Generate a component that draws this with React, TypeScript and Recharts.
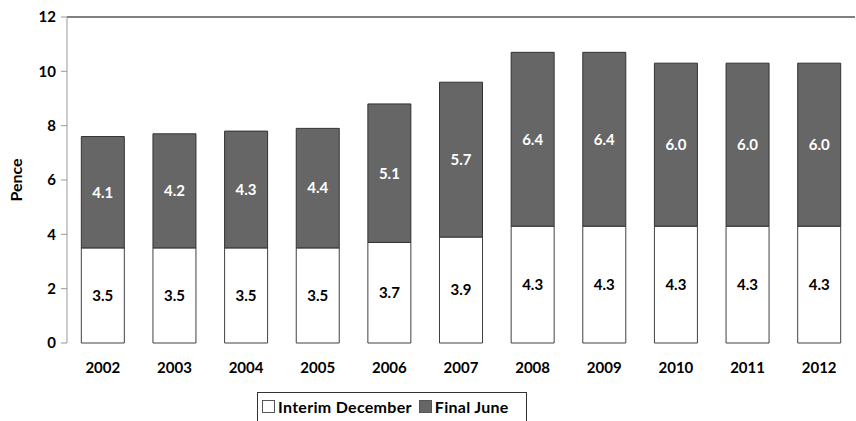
import React from 'react';
import { BarChart, Bar, XAxis, YAxis, ReferenceLine, LabelList, Legend } from 'recharts';

const years = ['2002', '2003', '2004', '2005', '2006', '2007', '2008', '2009', '2010', '2011', '2012'];
const interimDecember = [3.5, 3.5, 3.5, 3.5, 3.7, 3.9, 4.3, 4.3, 4.3, 4.3, 4.3];
const finalJune = [4.1, 4.2, 4.3, 4.4, 5.1, 5.7, 6.4, 6.4, 6.0, 6.0, 6.0];
const yTicks = [0, 2, 4, 6, 8, 10, 12];
const boundaryTicks = [0, 1, 2, 3, 4, 5, 6, 7, 8, 9, 10, 11];

const data = years.map((y, i) => ({ year: y, interim: interimDecember[i], final: finalJune[i] }));

const FONT = 'Lato, "Open Sans", sans-serif';

const LegendBox = () => (
  <div
    style={{
      display: 'inline-flex',
      alignItems: 'center',
      border: '1px solid #333',
      padding: '0 8px 2px 4px',
      fontFamily: FONT,
      fontWeight: 700,
      fontSize: 16,
      color: '#000',
      background: '#fff',
      height: 30,
      boxSizing: 'border-box',
      width: 270,
      whiteSpace: 'nowrap',
    }}
  >
    <span style={{ display: 'inline-block', width: 11, height: 11, border: '1px solid #555', background: '#fff', marginRight: 3 }} />
    <span style={{ marginRight: 7, letterSpacing: 0.3 }}>Interim December</span>
    <span style={{ display: 'inline-block', width: 11, height: 11, border: '1px solid #555', background: '#666666', marginRight: 3 }} />
    <span style={{ letterSpacing: 0.3 }}>Final June</span>
  </div>
);

export default function App() {
  return (
    <div style={{ position: 'absolute', left: 0, top: 0, width: 856, height: 421, background: '#fff', overflow: 'hidden' }}>
      <BarChart
        width={856}
        height={421}
        data={data}
        margin={{ top: 17, right: 1, left: 0, bottom: 18 }}
        barCategoryGap="20%"
      >
        <XAxis
          xAxisId="num"
          type="number"
          domain={[0, 11]}
          ticks={boundaryTicks}
          tickFormatter={() => ''}
          tickSize={6}
          height={0}
          axisLine={{ stroke: '#999' }}
          tickLine={{ stroke: '#999' }}
          allowDataOverflow
        />
        <XAxis
          xAxisId="cat"
          dataKey="year"
          axisLine={false}
          tickLine={false}
          tickSize={0}
          tickMargin={19}
          height={30}
          tick={{ fill: '#000', fontFamily: FONT, fontWeight: 700, fontSize: 15 }}
          interval={0}
        />
        <YAxis
          domain={[0, 12]}
          ticks={yTicks}
          width={67}
          tickSize={6}
          tickMargin={5}
          axisLine={{ stroke: '#999' }}
          tickLine={{ stroke: '#999' }}
          tick={{ fill: '#000', fontFamily: FONT, fontWeight: 700, fontSize: 15 }}
          label={{
            value: 'Pence',
            angle: -90,
            position: 'insideLeft',
            offset: 16,
            style: { fill: '#000', fontFamily: FONT, fontWeight: 700, fontSize: 16, textAnchor: 'middle' },
          }}
        />
        <ReferenceLine xAxisId="cat" y={12} stroke="#000" strokeWidth={1} ifOverflow="extendDomain" />
        <Legend content={<LegendBox />} wrapperStyle={{ top: 392, left: 257, width: 'auto', height: 30 }} />
        <Bar xAxisId="cat" dataKey="interim" stackId="a" fill="#ffffff" stroke="#404040" strokeWidth={1} isAnimationActive={false}>
          <LabelList
            dataKey="interim"
            position="center"
            formatter={(v: number) => v.toFixed(1)}
            style={{ fill: '#000', fontFamily: FONT, fontWeight: 700, fontSize: 15 }}
          />
        </Bar>
        <Bar xAxisId="cat" dataKey="final" stackId="a" fill="#666666" stroke="#333333" strokeWidth={1} isAnimationActive={false}>
          <LabelList
            dataKey="final"
            position="center"
            formatter={(v: number) => v.toFixed(1)}
            style={{ fill: '#fff', fontFamily: FONT, fontWeight: 700, fontSize: 15 }}
          />
        </Bar>
      </BarChart>
    </div>
  );
}
